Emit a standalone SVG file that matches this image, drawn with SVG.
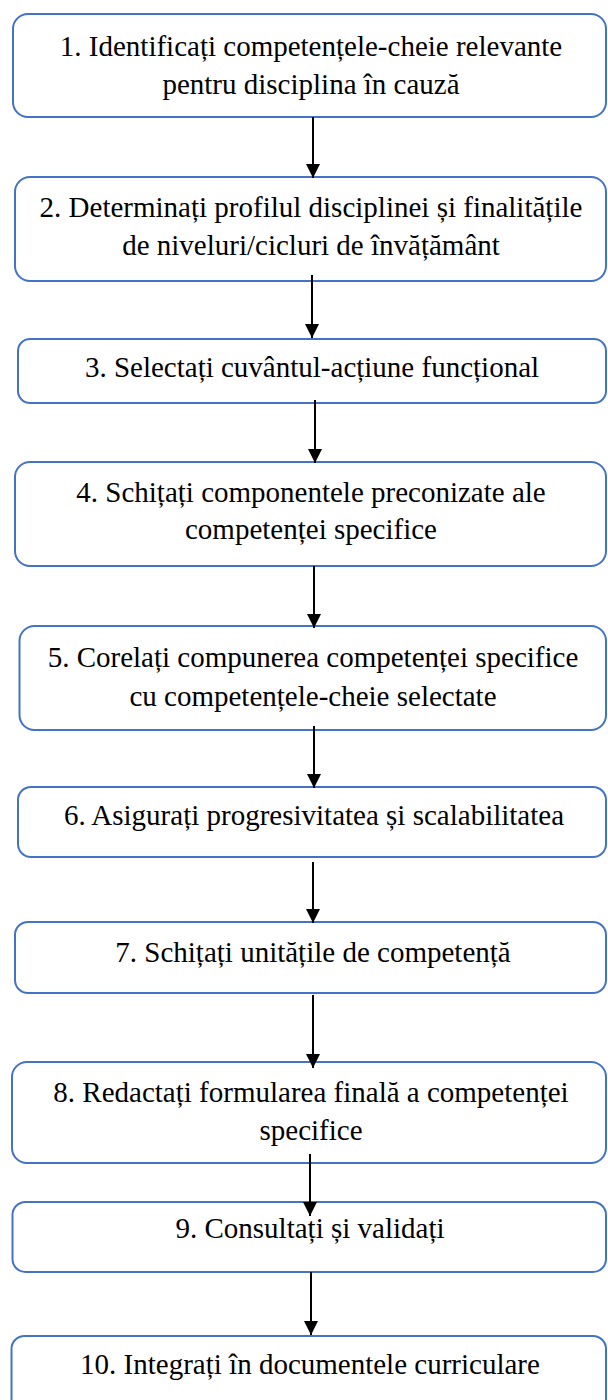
<svg xmlns="http://www.w3.org/2000/svg" width="608" height="1400" viewBox="0 0 608 1400" font-family="Liberation Serif, Times New Roman, serif">
<style>
.box{fill:#ffffff;stroke:#4472C4;stroke-width:2}
.t{font-size:29px;fill:#000000;text-anchor:middle}
.c{stroke:#000000;stroke-width:2;fill:none}
</style>
<defs>
<marker id="ah" viewBox="0 0 14 14" refX="14" refY="7" markerWidth="14" markerHeight="14" markerUnits="userSpaceOnUse" orient="auto">
<path d="M0,0 L14,7 L0,14 z" fill="#000000"/>
</marker>
</defs>
<rect width="608" height="1400" fill="#ffffff"/>
<g id="n1"><rect class="box" x="13" y="14" width="593" height="103" rx="15"/>
<text class="t" x="311" y="56" font-family="Liberation Serif, serif">1. Identificați competențele-cheie relevante</text>
<text class="t" x="311" y="94" font-family="Liberation Serif, serif">pentru disciplina în cauză</text></g>
<g id="n2"><rect class="box" x="15" y="177" width="591" height="104" rx="15"/>
<text class="t" x="311" y="217" font-family="Liberation Serif, serif">2. Determinați profilul disciplinei și finalitățile</text>
<text class="t" x="311" y="255" font-family="Liberation Serif, serif">de niveluri/cicluri de învățământ</text></g>
<g id="n3"><rect class="box" x="18" y="339" width="588" height="64" rx="12"/>
<text class="t" x="312" y="377" font-family="Liberation Serif, serif">3. Selectați cuvântul-acțiune funcțional</text></g>
<g id="n4"><rect class="box" x="15" y="462" width="591" height="104" rx="15"/>
<text class="t" x="311" y="502" font-family="Liberation Serif, serif">4. Schițați componentele preconizate ale</text>
<text class="t" x="311" y="539" font-family="Liberation Serif, serif">competenței specifice</text></g>
<g id="n5"><rect class="box" x="19.5" y="626" width="586.5" height="104" rx="15"/>
<text class="t" x="313" y="667" font-family="Liberation Serif, serif">5. Corelați compunerea competenței specifice</text>
<text class="t" x="313" y="706" font-family="Liberation Serif, serif">cu competențele-cheie selectate</text></g>
<g id="n6"><rect class="box" x="18" y="787" width="588" height="70" rx="13"/>
<text class="t" x="314" y="825" font-family="Liberation Serif, serif">6. Asigurați progresivitatea și scalabilitatea</text></g>
<g id="n7"><rect class="box" x="15" y="922" width="591" height="71" rx="13"/>
<text class="t" x="313" y="962" font-family="Liberation Serif, serif">7. Schițați unitățile de competență</text></g>
<g id="n8"><rect class="box" x="12" y="1062" width="594" height="101" rx="15"/>
<text class="t" x="311" y="1102" font-family="Liberation Serif, serif">8. Redactați formularea finală a competenței</text>
<text class="t" x="311" y="1140" font-family="Liberation Serif, serif">specifice</text></g>
<g id="n9"><rect class="box" x="12.5" y="1202" width="593.5" height="70" rx="13"/>
<text class="t" x="310" y="1238" font-family="Liberation Serif, serif">9. Consultați și validați</text></g>
<g id="n10"><rect class="box" x="11.5" y="1336" width="594.5" height="80" rx="13"/>
<text class="t" x="310" y="1374" font-family="Liberation Serif, serif">10. Integrați în documentele curriculare</text></g>
<g id="connectors">
<line class="c" x1="313" y1="117" x2="313" y2="178" marker-end="url(#ah)"/>
<line class="c" x1="312" y1="275" x2="312" y2="338" marker-end="url(#ah)"/>
<line class="c" x1="315" y1="400" x2="315" y2="463" marker-end="url(#ah)"/>
<line class="c" x1="314" y1="566" x2="314" y2="628" marker-end="url(#ah)"/>
<line class="c" x1="314" y1="726" x2="314" y2="788" marker-end="url(#ah)"/>
<line class="c" x1="313" y1="862" x2="313" y2="923" marker-end="url(#ah)"/>
<line class="c" x1="313" y1="995" x2="313" y2="1068" marker-end="url(#ah)"/>
<line class="c" x1="310" y1="1154" x2="310" y2="1216" marker-end="url(#ah)"/>
<line class="c" x1="311" y1="1272" x2="311" y2="1335" marker-end="url(#ah)"/>
</g>
</svg>
